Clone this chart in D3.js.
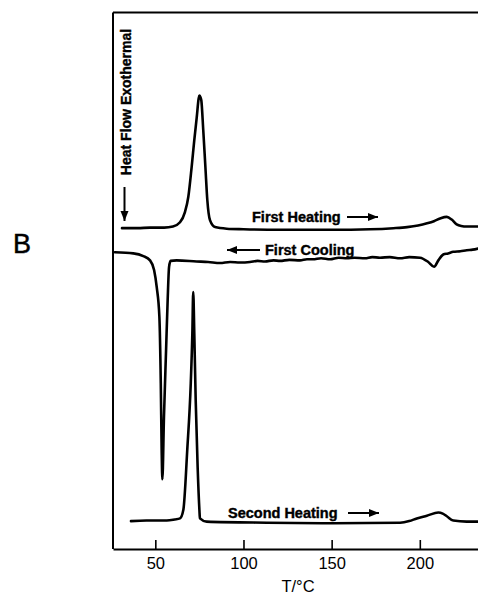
<!DOCTYPE html>
<html><head><meta charset="utf-8">
<script src="https://cdn.jsdelivr.net/npm/d3@7"></script>
<style>
html,body{margin:0;padding:0;background:#fff;}
svg{display:block;font-family:"Liberation Sans",Arial,Helvetica,sans-serif;}
</style></head>
<body>
<svg id="chart" width="478" height="597"></svg>
<script>
// ---- data (T in °C, heat flow in arbitrary units, exotherm up) ----
const xTicks = [50, 100, 150, 200];
const xLabel = "T/°C";
const yLabel = "Heat Flow Exothermal";
const panelLabel = "B";
const seriesNames = ["First Heating", "First Cooling", "Second Heating"];

const firstHeating = [
  [31.1,59.8],[40,59.8],[47.0,59.9],[55,59.9],[60.0,60.1],[64.0,60.9],[66.8,62.8],[68.7,65.6],
  [70.6,71.2],[72.1,76.2],[73.5,80.5],[74.6,84.0],[75.0,84.5],[75.6,84.2],[76.1,83.6],[77.2,78.0],
  [78.4,71.2],[79.5,65.0],[81.0,61.3],[83.9,60.0],[90.5,59.7],[100,59.6],[120.7,59.5],
  [150,59.5],[171.8,59.6],[185,59.8],[192.8,60.0],[199,60.3],[204.1,60.7],[208,61.1],
  [211.5,61.6],[215.3,61.9],[218.1,61.4],[220.9,60.5],[223.5,60.2],[226.6,60.1],[233,60.1]
];
const firstCooling = [
  [27.1,55.3],[37.5,55.1],[43.2,54.6],[47.0,53.8],[49.3,52.0],[50.8,48.8],[52.3,43.3],
  [53.1,30.9],[53.6,18.4],[54.0,13.0],[54.9,24.6],[56.1,37.1],[57.0,46.4],[57.8,52.6],
  [58.7,53.7],[62.1,53.8],[73.4,53.6],[80,53.5],[86.7,53.3],[92.4,53.5],[98,53.4],
  [103.7,53.5],[108,53.7],[112.2,53.6],[117,53.8],[120.7,53.7],[126,53.9],[132.1,53.8],
  [136,54.0],[139.4,54.0],[144,54.2],[149.1,54.0],[154,54.3],[158.6,54.2],[163,54.3],
  [168.9,54.2],[173,54.4],[177.4,54.3],[183,54.4],[188.8,54.2],[194,54.4],[200.1,54.3],
  [204.8,53.5],[208.1,52.6],[210.5,53.8],[213.3,54.9],[216,55.1],[219.0,55.4],[223,55.5],
  [226.6,55.7],[230,55.8],[233,56.0]
];
const secondHeating = [
  [36.2,5.2],[45,5.3],[56.5,5.3],[61,5.5],[64.0,5.7],[65.9,7.3],[68.1,18.4],[70.1,30.9],
  [71.0,40.2],[71.5,47.9],[72.1,40.2],[72.9,27.7],[74.0,15.3],[75.0,7.3],[75.3,5.7],
  [79.1,5.1],[113.2,4.9],[151.0,4.8],[188.8,4.9],[194,5.2],[198.3,5.7],[204,6.2],
  [210.5,6.8],[213,6.6],[215.3,6.1],[219.0,5.3],[226.6,5.1],[233,5.1]
];

// ---- layout ----
const svg = d3.select("#chart");
const mLeft = 113, mRight = 478, mTop = 12.5, mBottom = 549;
const x = d3.scaleLinear().domain([26, 233]).range([mLeft, mRight]);
const y = d3.scaleLinear().domain([0, 100]).range([mBottom, mTop]);

// frame: top and left
svg.append("line").attr("x1", mLeft).attr("x2", mRight).attr("y1", mTop).attr("y2", mTop)
  .attr("stroke", "#000").attr("stroke-width", 2);
svg.append("line").attr("x1", mLeft).attr("x2", mLeft).attr("y1", mTop).attr("y2", mBottom)
  .attr("stroke", "#000").attr("stroke-width", 2);

// bottom axis
const ax = svg.append("g").attr("transform", `translate(0,${mBottom})`)
  .call(d3.axisBottom(x).tickValues(xTicks).tickSize(-9).tickSizeOuter(0).tickPadding(8)
        .tickFormat(d3.format("d")));
ax.select(".domain").attr("stroke", "#000").attr("stroke-width", 2);
ax.selectAll(".tick line").attr("stroke", "#000").attr("stroke-width", 1.6);
ax.selectAll(".tick text").attr("font-size", 16.5).attr("fill", "#000")
  .attr("font-family", "Liberation Sans, Arial, sans-serif");

svg.append("text").attr("x", 298).attr("y", 592).attr("text-anchor", "middle")
  .attr("font-size", 16.5).text(xLabel);

// curves
const line = d3.line().x(d => x(d[0])).y(d => y(d[1])).curve(d3.curveMonotoneX);
[firstHeating, firstCooling, secondHeating].forEach(s => {
  svg.append("path").datum(s).attr("d", line).attr("fill", "none")
    .attr("stroke", "#000").attr("stroke-width", 2.6)
    .attr("stroke-linejoin", "round").attr("stroke-linecap", "round");
});

// arrows
function arrow(x1, y1, x2, y2) {
  svg.append("line").attr("x1", x1).attr("y1", y1).attr("x2", x2).attr("y2", y2)
    .attr("stroke", "#000").attr("stroke-width", 2);
  const ang = Math.atan2(y2 - y1, x2 - x1), L = 10, W = 4;
  const bx = x2 - L * Math.cos(ang), by = y2 - L * Math.sin(ang);
  const px = -Math.sin(ang) * W, py = Math.cos(ang) * W;
  svg.append("path").attr("d", `M${x2},${y2}L${bx + px},${by + py}L${bx - px},${by - py}Z`)
    .attr("fill", "#000");
}

// series labels
const lab = (tx, ty, t) => svg.append("text").attr("x", tx).attr("y", ty)
  .attr("font-size", 14.5).attr("font-weight", "bold").attr("dominant-baseline", "central")
  .attr("stroke", "#000").attr("stroke-width", 0.4).text(t);
lab(252, 217, seriesNames[0]); arrow(347, 217, 378, 217);
lab(265, 250, seriesNames[1]); arrow(260, 250, 227, 250);
lab(228, 513, seriesNames[2]); arrow(348, 513, 379, 513);

// y label (rotated) with down arrow
svg.append("text").attr("transform", "translate(126,102) rotate(-90)")
  .attr("text-anchor", "middle").attr("dominant-baseline", "central")
  .attr("font-size", 14).attr("font-weight", "bold")
  .attr("stroke", "#000").attr("stroke-width", 0.4).text(yLabel);
arrow(124.5, 187, 124.5, 221);

// panel label
svg.append("text").attr("x", 13).attr("y", 253).attr("font-size", 27)
  .attr("stroke", "#000").attr("stroke-width", 0.5).text(panelLabel);
</script>
</body></html>
